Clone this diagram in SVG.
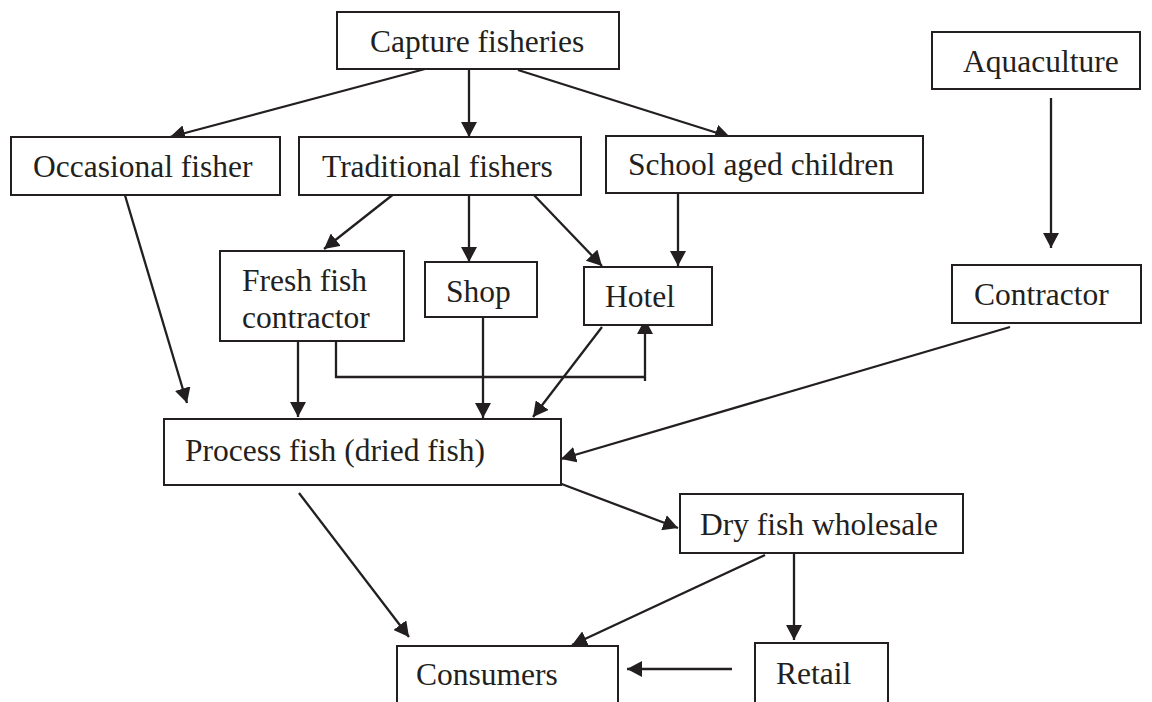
<svg xmlns="http://www.w3.org/2000/svg" width="1152" height="702" viewBox="0 0 1152 702">
<defs>
<style>
.box{fill:#fff;stroke:#231f20;stroke-width:2}
.lbl{font-family:"Liberation Serif","Times New Roman",serif;font-size:31.5px;fill:#231f20}
.c{fill:none;stroke:#231f20;stroke-width:2.3}
</style>
<marker id="ah" markerUnits="userSpaceOnUse" markerWidth="16" markerHeight="16" viewBox="0 0 16 16" refX="15" refY="8" orient="auto">
<path d="M0,0 L15,8 L0,16 z" fill="#231f20"/>
</marker>
</defs>
<rect width="1152" height="702" fill="#fff"/>
<g id="connectors">
<line class="c" x1="425" y1="69" x2="170" y2="137" marker-end="url(#ah)"/>
<line class="c" x1="469" y1="69" x2="469" y2="137" marker-end="url(#ah)"/>
<line class="c" x1="518" y1="70" x2="730" y2="137" marker-end="url(#ah)"/>
<line class="c" x1="1051" y1="98" x2="1051" y2="248" marker-end="url(#ah)"/>
<line class="c" x1="124" y1="192" x2="187" y2="403" marker-end="url(#ah)"/>
<line class="c" x1="395" y1="193" x2="324" y2="249" marker-end="url(#ah)"/>
<line class="c" x1="469" y1="193" x2="469" y2="262" marker-end="url(#ah)"/>
<line class="c" x1="531" y1="192" x2="602" y2="266" marker-end="url(#ah)"/>
<line class="c" x1="678" y1="193" x2="678" y2="266" marker-end="url(#ah)"/>
<line class="c" x1="298" y1="335" x2="298" y2="417" marker-end="url(#ah)"/>
<polyline class="c" points="336,335 336,377 645,377"/>
<line class="c" x1="645" y1="381" x2="645" y2="319" marker-end="url(#ah)"/>
<line class="c" x1="483" y1="317" x2="483" y2="418" marker-end="url(#ah)"/>
<line class="c" x1="602" y1="327" x2="533" y2="417" marker-end="url(#ah)"/>
<line class="c" x1="1010" y1="327" x2="561" y2="459" marker-end="url(#ah)"/>
<line class="c" x1="559" y1="483" x2="678" y2="528" marker-end="url(#ah)"/>
<line class="c" x1="299" y1="493" x2="409" y2="637" marker-end="url(#ah)"/>
<line class="c" x1="765" y1="555" x2="572" y2="645" marker-end="url(#ah)"/>
<line class="c" x1="794" y1="553" x2="794" y2="640" marker-end="url(#ah)"/>
<line class="c" x1="732" y1="669" x2="627" y2="669" marker-end="url(#ah)"/>
</g>
<g id="capture"><rect class="box" x="337" y="12" width="282" height="57"/><text class="lbl" x="370" y="52">Capture fisheries</text></g>
<g id="aquaculture"><rect class="box" x="932" y="32" width="208" height="57"/><text class="lbl" x="963" y="72">Aquaculture</text></g>
<g id="occasional"><rect class="box" x="11" y="137" width="269" height="58"/><text class="lbl" x="33" y="177">Occasional fisher</text></g>
<g id="traditional"><rect class="box" x="299" y="137" width="282" height="58"/><text class="lbl" x="322" y="177">Traditional fishers</text></g>
<g id="school"><rect class="box" x="606" y="136" width="317" height="57"/><text class="lbl" x="628" y="175">School aged children</text></g>
<g id="fresh"><rect class="box" x="220" y="251" width="184" height="90"/><text class="lbl" x="242" y="291">Fresh fish</text><text class="lbl" x="242" y="328">contractor</text></g>
<g id="shop"><rect class="box" x="425" y="262" width="112" height="55"/><text class="lbl" x="446" y="302">Shop</text></g>
<g id="hotel"><rect class="box" x="584" y="267" width="128" height="58"/><text class="lbl" x="605" y="307">Hotel</text></g>
<g id="contractor"><rect class="box" x="952" y="265" width="189" height="58"/><text class="lbl" x="974" y="305">Contractor</text></g>
<g id="process"><rect class="box" x="164" y="419" width="397" height="66"/><text class="lbl" x="185" y="461">Process fish (dried fish)</text></g>
<g id="dry"><rect class="box" x="680" y="494" width="283" height="59"/><text class="lbl" x="700" y="535">Dry fish wholesale</text></g>
<g id="consumers"><rect class="box" x="397" y="646" width="221" height="70"/><text class="lbl" x="416" y="685">Consumers</text></g>
<g id="retail"><rect class="box" x="755" y="643" width="133" height="70"/><text class="lbl" x="776" y="684">Retail</text></g>
</svg>
